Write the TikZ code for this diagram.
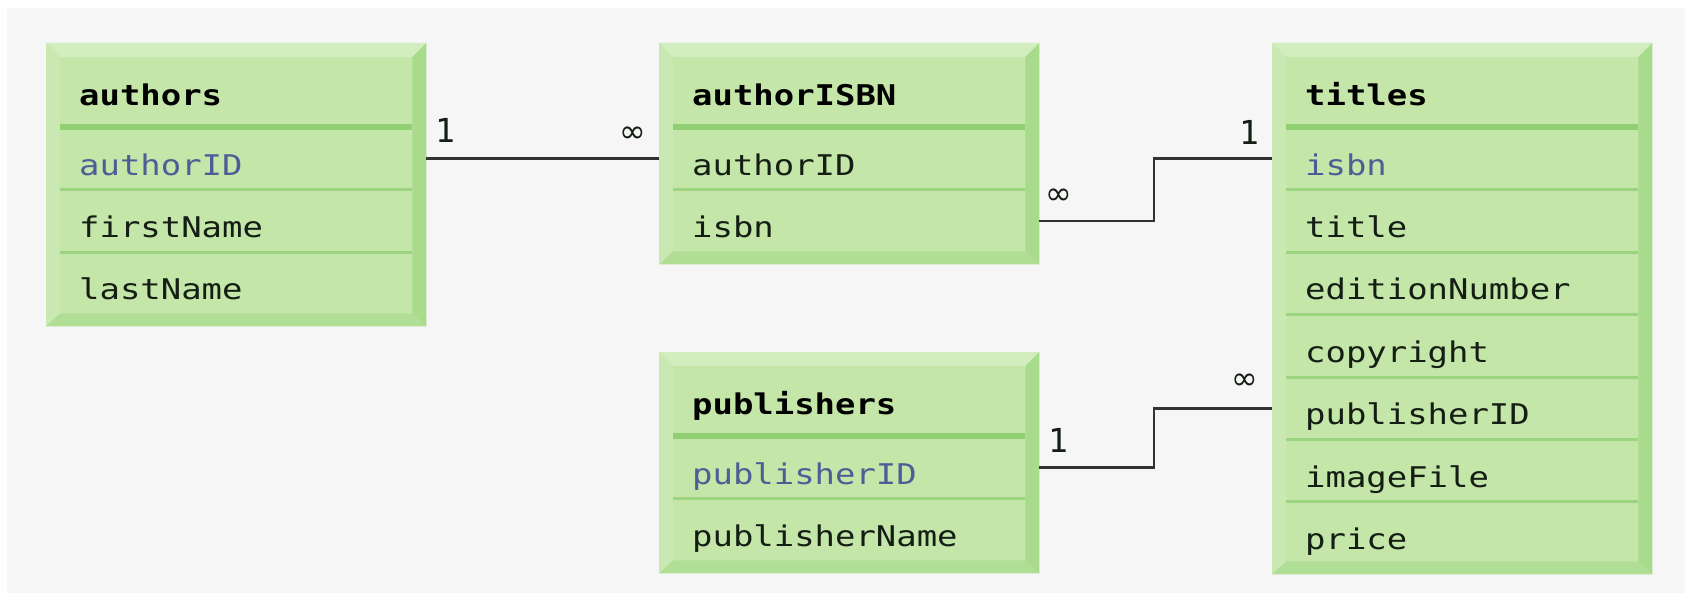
\documentclass[tikz,border=0pt]{standalone}
\usepackage{fontspec}
\usetikzlibrary{calc}
\newfontfamily\tabfont[FakeStretch=1.19]{DejaVu Sans Mono}
\newfontfamily\cardfont{DejaVu Sans Mono}
\newfontfamily\inffont{DejaVu Sans}
\definecolor{bggray}{RGB}{246,246,246}
\definecolor{face}{RGB}{196,230,168}
\definecolor{bevtopc}{RGB}{210,237,190}
\definecolor{bevleftc}{RGB}{202,233,178}
\definecolor{bevrightc}{RGB}{169,219,141}
\definecolor{bevbotc}{RGB}{176,222,149}
\definecolor{septhickc}{RGB}{144,207,114}
\definecolor{septhinc}{RGB}{157,212,127}
\definecolor{txt}{RGB}{20,30,20}
\definecolor{keyc}{RGB}{75,95,150}
\definecolor{linec}{RGB}{50,50,50}
\tikzset{
  tbl/.style={rectangle, fill=face, minimum width=380pt, inner sep=0pt, anchor=north west},
  hdr/.style={rectangle, inner xsep=19pt, inner ysep=0pt, text width=314pt, align=left,
    text height=48pt, text depth=22pt, anchor=north west, font=\tabfont\fontsize{28.5}{30}\selectfont\bfseries, text=black},
  fld/.style={rectangle, inner xsep=19pt, inner ysep=0pt, text width=314pt, align=left,
    text height=47.5pt, text depth=14.5pt, anchor=north west, font=\tabfont\fontsize{28.5}{30}\selectfont, text=txt},
  keyfld/.style={fld, text=keyc},
  septhick/.style={draw=septhickc, line width=6pt},
  septhin/.style={draw=septhinc, line width=3pt},
  conn/.style={draw=linec, line width=2.8pt},
  card/.style={inner sep=0pt, anchor=base, font=\cardfont\fontsize{33}{35}\selectfont, text=txt},
  many/.style={inner sep=0pt, anchor=center, font=\inffont\fontsize{32}{34}\selectfont, text=txt},
}
\newcommand\bevelbox[1]{%
  \fill[bevtopc] (#1.north west) -- (#1.north east) -- ($(#1.north east)+(-14,14)$) -- ($(#1.north west)+(14,14)$) -- cycle;
  \fill[bevleftc] (#1.north west) -- ($(#1.north west)+(14,14)$) -- ($(#1.south west)+(14,-13)$) -- (#1.south west) -- cycle;
  \fill[bevrightc] (#1.north east) -- ($(#1.north east)+(-14,14)$) -- ($(#1.south east)+(-14,-13)$) -- (#1.south east) -- cycle;
  \fill[bevbotc] (#1.south west) -- ($(#1.south west)+(14,-13)$) -- ($(#1.south east)+(-14,-13)$) -- (#1.south east) -- cycle;
}
\begin{document}
\begin{tikzpicture}[x=1pt,y=-1pt]
\useasboundingbox (0,0) rectangle (1685,593);
\fill[white] (0,0) rectangle (1685,593);
\fill[bggray] (7,8) rectangle (1685,593);

% ---------- authors ----------
\node[tbl, minimum height=283pt] (authors) at (46,43) {};
\bevelbox{authors}
\node[hdr] (a-h) at (60,57) {authors};
\node[keyfld] (a-1) at (a-h.south west) {authorID};
\node[fld] (a-2) at (a-1.south west) {firstName};
\node[fld] (a-3) at (a-2.south west) {lastName};
\draw[septhick] (a-h.south west) -- (a-h.south east);
\draw[septhin] (a-1.south west) -- (a-1.south east);
\draw[septhin] (a-2.south west) -- (a-2.south east);

% ---------- authorISBN ----------
\node[tbl, minimum height=221pt] (ais) at (659,43) {};
\bevelbox{ais}
\node[hdr] (ais-h) at (673,57) {authorISBN};
\node[fld] (ais-1) at (ais-h.south west) {authorID};
\node[fld] (ais-2) at (ais-1.south west) {isbn};
\draw[septhick] (ais-h.south west) -- (ais-h.south east);
\draw[septhin] (ais-1.south west) -- (ais-1.south east);

% ---------- publishers ----------
\node[tbl, minimum height=221pt] (pub) at (659,352) {};
\bevelbox{pub}
\node[hdr] (p-h) at (673,366) {publishers};
\node[keyfld] (p-1) at (p-h.south west) {publisherID};
\node[fld] (p-2) at (p-1.south west) {publisherName};
\draw[septhick] (p-h.south west) -- (p-h.south east);
\draw[septhin] (p-1.south west) -- (p-1.south east);

% ---------- titles ----------
\node[tbl, minimum height=531pt] (titles) at (1272,43) {};
\bevelbox{titles}
\node[hdr] (t-h) at (1286,57) {titles};
\node[keyfld] (t-1) at (t-h.south west) {isbn};
\node[fld] (t-2) at (t-1.south west) {title};
\node[fld] (t-3) at (t-2.south west) {editionNumber};
\node[fld] (t-4) at (t-3.south west) {copyright};
\node[fld] (t-5) at (t-4.south west) {publisherID};
\node[fld] (t-6) at (t-5.south west) {imageFile};
\node[fld] (t-7) at (t-6.south west) {price};
\draw[septhick] (t-h.south west) -- (t-h.south east);
\foreach \i in {1,...,6} {\draw[septhin] (t-\i.south west) -- (t-\i.south east);}

% ---------- connectors ----------
\coordinate (e1) at (1154,0);
\coordinate (e2) at (1154,0);
\draw[conn] (authors.east |- a-1.center) -- (ais.west |- ais-1.center);
\draw[conn] (ais.east |- ais-2.center) -- (e1 |- ais-2.center) -- (e1 |- t-1.center) -- (titles.west |- t-1.center);
\draw[conn] (pub.east |- p-1.center) -- (e2 |- p-1.center) -- (e2 |- t-5.center) -- (titles.west |- t-5.center);

% ---------- cardinalities ----------
\node[card] (c1) at (445,143) {1};
\node[many] (c2) at (633,135) {∞};
\node[many] (c3) at (1059,197) {∞};
\node[card] (c4) at (1249,145) {1};
\node[card] (c5) at (1058,452) {1};
\node[many] (c6) at (1245,382) {∞};
\end{tikzpicture}
\end{document}
